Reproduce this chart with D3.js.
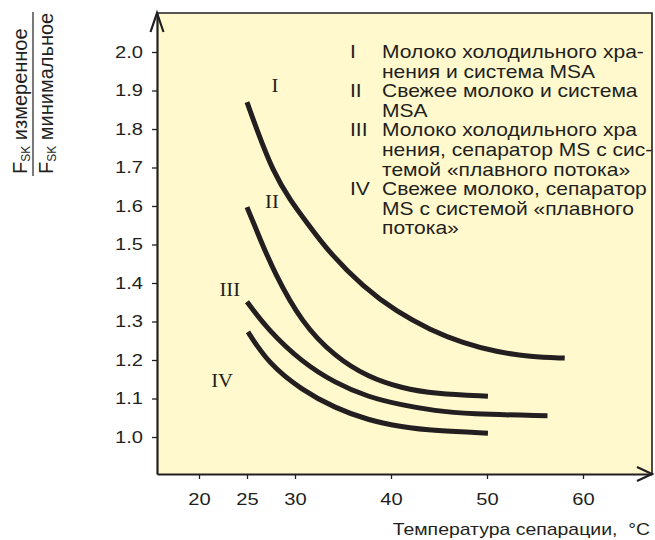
<!DOCTYPE html>
<html>
<head>
<meta charset="utf-8">
<script src="https://cdn.jsdelivr.net/npm/d3@7"></script>
<style>
  body { margin: 0; background: #fff; }
  svg { display: block; }
</style>
</head>
<body>
<svg id="chart" width="655" height="540"></svg>
<script>
// curves: [temperature °C, Fsk measured / Fsk minimal]
const curveI = [[25, 1.87], [26, 1.80], [27.7, 1.69], [29.5, 1.615], [31.3, 1.555], [33.6, 1.478],
  [37.1, 1.39], [40.6, 1.325], [44.1, 1.278], [47.5, 1.244], [51, 1.221], [54.5, 1.208], [58.1, 1.205]];
const curveII = [[25, 1.597], [26.4, 1.512], [27.8, 1.43], [30.7, 1.296], [34.2, 1.208],
  [37.6, 1.156], [41.1, 1.127], [44.6, 1.112], [50.1, 1.106]];
const curveIII = [[25, 1.351], [27.2, 1.278], [30.7, 1.195], [34.2, 1.14], [37.6, 1.104],
  [41.1, 1.083], [44.6, 1.068], [48, 1.06], [56.3, 1.055]];
const curveIV = [[25.1, 1.273], [27.2, 1.192], [30.7, 1.122], [34.2, 1.075], [37.6, 1.044],
  [41.1, 1.026], [44.6, 1.016], [50.1, 1.01]];

const curveNames = ['I', 'II', 'III', 'IV'];
// where each roman numeral sits (data units)
const labelPos = [[27.9, 1.896], [27.6, 1.595], [23.2, 1.367], [22.4, 1.130]];

const xTicks = [20, 25, 30, 40, 50, 60];
const yTicks = [1.0, 1.1, 1.2, 1.3, 1.4, 1.5, 1.6, 1.7, 1.8, 1.9, 2.0];

const legendLines = [
  ['I', 'Молоко холодильного хра-'],
  ['', 'нения и система MSA'],
  ['II', 'Свежее молоко и система'],
  ['', 'MSA'],
  ['III', 'Молоко холодильного хра'],
  ['', 'нения, сепаратор MS с сис-'],
  ['', 'темой «плавного потока»'],
  ['IV', 'Свежее молоко, сепаратор'],
  ['', 'MS с системой «плавного'],
  ['', 'потока»']
];

const xTitle = 'Температура сепарации,  °C';

const ink = '#231f20';
const sans = '"Liberation Sans", Arial, Helvetica, sans-serif';
const serif = '"Liberation Serif", "Times New Roman", serif';

const svg = d3.select('#chart');
const margin = { top: 13, left: 157, right: 3, bottom: 66 };
const width = 655 - margin.left - margin.right;
const height = 540 - margin.top - margin.bottom;

const g = svg.append('g')
  .attr('transform', 'translate(' + margin.left + ',' + margin.top + ')');

const x = d3.scaleLinear().domain([15.625, 67.19]).range([0, width]);
const y = d3.scaleLinear().domain([0.9039, 2.1013]).range([height, 0]);

// the source type is set wider than Arial; find a horizontal factor from one sample
function widthFactor(str, size, target) {
  const t = svg.append('text').style('font-family', sans).style('font-size', size + 'px').text(str);
  const w = t.node().getComputedTextLength();
  t.remove();
  return target / w;
}
const tickStretch = widthFactor('2.0', 17, 28);
const legendStretch = widthFactor('Молоко холодильного хра-', 18, 262);
const titleStretch = widthFactor(xTitle.replace('  ', ' '), 17, 252);

// panel
g.append('rect')
  .attr('width', width)
  .attr('height', height)
  .attr('fill', '#fff9cd');

g.append('path')
  .attr('d', 'M0,0H' + width + 'V' + height)
  .attr('fill', 'none')
  .attr('stroke', ink)
  .attr('stroke-width', 1.6);

// axes
const xAxis = g.append('g')
  .attr('transform', 'translate(0,' + height + ')')
  .call(d3.axisBottom(x).tickValues(xTicks).tickSize(5).tickSizeOuter(0).tickPadding(14));

const yAxis = g.append('g')
  .call(d3.axisLeft(y).tickValues(yTicks).tickSize(5).tickSizeOuter(0).tickPadding(9)
    .tickFormat(d3.format('.1f')));

[xAxis, yAxis].forEach(a => {
  a.select('.domain').attr('stroke', ink).attr('stroke-width', 2.2);
  a.selectAll('.tick line').attr('stroke', ink).attr('stroke-width', 1.3);
  a.selectAll('.tick text')
    .attr('fill', ink)
    .style('font-family', sans)
    .style('font-size', '17px');
});

xAxis.selectAll('.tick text').attr('transform', 'scale(' + tickStretch + ',1)');
yAxis.selectAll('.tick text')
  .attr('x', 0)
  .attr('transform', 'translate(-14,0) scale(' + tickStretch + ',1)');

// arrow heads
g.append('path')
  .attr('d', 'M-6.5,19L0,0L6.5,19')
  .attr('fill', 'none')
  .attr('stroke', ink)
  .attr('stroke-width', 2.2);

g.append('path')
  .attr('d', 'M' + (width - 15) + ',' + (height - 7) + 'L' + width + ',' + height +
    'L' + (width - 15) + ',' + (height + 7))
  .attr('fill', 'none')
  .attr('stroke', ink)
  .attr('stroke-width', 2.2);

// curves
const line = d3.line()
  .x(d => x(d[0]))
  .y(d => y(d[1]))
  .curve(d3.curveBasis);

g.selectAll('.curve')
  .data([curveI, curveII, curveIII, curveIV])
  .enter()
  .append('path')
  .attr('class', 'curve')
  .attr('d', line)
  .attr('fill', 'none')
  .attr('stroke', ink)
  .attr('stroke-width', 5);

g.selectAll('.clabel')
  .data(labelPos)
  .enter()
  .append('text')
  .attr('class', 'clabel')
  .attr('transform', d => 'translate(' + x(d[0]) + ',' + y(d[1]) + ') scale(1.15,1)')
  .attr('text-anchor', 'middle')
  .attr('fill', ink)
  .style('font-family', serif)
  .style('font-size', '18px')
  .text((d, i) => curveNames[i]);

// legend
const legend = svg.append('g');
legendLines.forEach((row, i) => {
  const ly = 58 + i * 19.6;
  legend.append('text')
    .attr('transform', 'translate(350,' + ly + ') scale(' + legendStretch + ',1)')
    .attr('fill', ink)
    .style('font-family', sans)
    .style('font-size', '18px')
    .text(row[0]);
  legend.append('text')
    .attr('transform', 'translate(382,' + ly + ') scale(' + legendStretch + ',1)')
    .attr('fill', ink)
    .style('font-family', sans)
    .style('font-size', '18px')
    .text(row[1]);
});

// x title
svg.append('text')
  .attr('transform', 'translate(650,535) scale(' + titleStretch + ',1)')
  .attr('text-anchor', 'end')
  .attr('fill', ink)
  .style('font-family', sans)
  .style('font-size', '17px')
  .style('white-space', 'pre')
  .attr('xml:space', 'preserve')
  .text(xTitle);

// y title: fraction rotated
const yt = svg.append('g').style('font-family', sans).attr('fill', ink);

function fracPart(bx, word) {
  const t = yt.append('text')
    .attr('transform', 'translate(' + bx + ',174) rotate(-90)')
    .style('font-size', '20px');
  t.append('tspan').text('F');
  t.append('tspan').attr('dy', 3).style('font-size', '12px').text('SK');
  t.append('tspan').attr('dy', -3).text(' ' + word);
}
fracPart(27, 'измеренное');
fracPart(53, 'минимальное');

yt.append('line')
  .attr('x1', 33).attr('x2', 33)
  .attr('y1', 12).attr('y2', 176)
  .attr('stroke', ink)
  .attr('stroke-width', 1.2);
</script>
</body>
</html>
